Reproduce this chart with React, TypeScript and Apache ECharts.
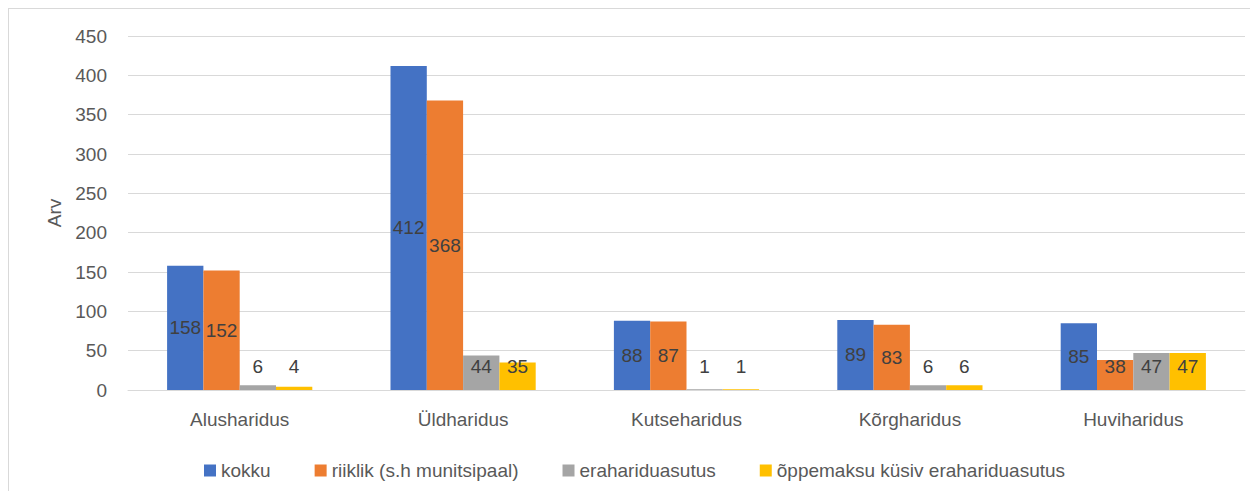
import React, { useEffect, useRef } from "react";
import * as echarts from "echarts";

const categories = ["Alusharidus", "Üldharidus", "Kutseharidus", "Kõrgharidus", "Huviharidus"];
const seriesNames = [
  "kokku",
  "riiklik (s.h munitsipaal)",
  "erahariduasutus",
  "õppemaksu küsiv erahariduasutus",
];
const kokku = [158, 412, 88, 89, 85];
const riiklik = [152, 368, 87, 83, 38];
const erahariduasutus = [6, 44, 1, 6, 47];
const oppemaksu = [4, 35, 1, 6, 47];
const colors = ["#4472C4", "#ED7D31", "#A5A5A5", "#FFC000"];
const yTicks = { min: 0, max: 450, interval: 50 };

const FONT = "'Liberation Sans', 'DejaVu Sans', sans-serif";
const TEXT = "#595959";

export default function App() {
  const ref = useRef<HTMLDivElement>(null);
  useEffect(() => {
    if (!ref.current) return;
    const chart = echarts.init(ref.current, undefined, { renderer: "svg" });
    const all = [kokku, riiklik, erahariduasutus, oppemaksu];
    const series = all.map((vals, i) => ({
      name: seriesNames[i],
      type: "bar",
      barGap: "0%",
      barCategoryGap: "35%",
      itemStyle: { color: colors[i] },
      data: vals.map((v) => ({
        value: v,
        label: {
          show: true,
          position: v < 60 ? "insideBottom" : "inside",
          distance: v < 60 ? 14 : 5,
          color: "#404040",
          fontSize: 19,
          fontFamily: FONT,
        },
      })),
    }));
    chart.setOption({
      animation: false,
      textStyle: { fontFamily: FONT },
      grid: { left: 119, top: 27, width: 1117, height: 354, containLabel: false },
      legend: {
        left: 190,
        top: 447,
        itemWidth: 12,
        itemHeight: 12,
        itemGap: 44,
        icon: "rect",
        textStyle: { color: TEXT, fontSize: 19, fontFamily: FONT },
        data: seriesNames,
      },
      xAxis: {
        type: "category",
        data: categories,
        axisLine: { lineStyle: { color: "#d9d9d9", width: 1 } },
        axisTick: { show: false },
        axisLabel: { color: TEXT, fontSize: 19, fontFamily: FONT, margin: 20 },
      },
      yAxis: {
        type: "value",
        min: yTicks.min,
        max: yTicks.max,
        interval: yTicks.interval,
        name: "Arv",
        nameLocation: "middle",
        nameGap: 62,
        nameTextStyle: { color: TEXT, fontSize: 19, fontFamily: FONT },
        axisLine: { show: false },
        axisTick: { show: false },
        axisLabel: { color: TEXT, fontSize: 19, fontFamily: FONT, margin: 21 },
        splitLine: { lineStyle: { color: "#d9d9d9", width: 1 } },
      },
      series,
    });
    return () => chart.dispose();
  }, []);
  return (
    <div
      style={{
        width: 1249,
        height: 483,
        borderTop: "1px solid #d9d9d9",
        borderLeft: "1px solid #d9d9d9",
        boxSizing: "border-box",
        background: "#fff",
      }}
    >
      <div ref={ref} style={{ width: 1248, height: 482 }} />
    </div>
  );
}
